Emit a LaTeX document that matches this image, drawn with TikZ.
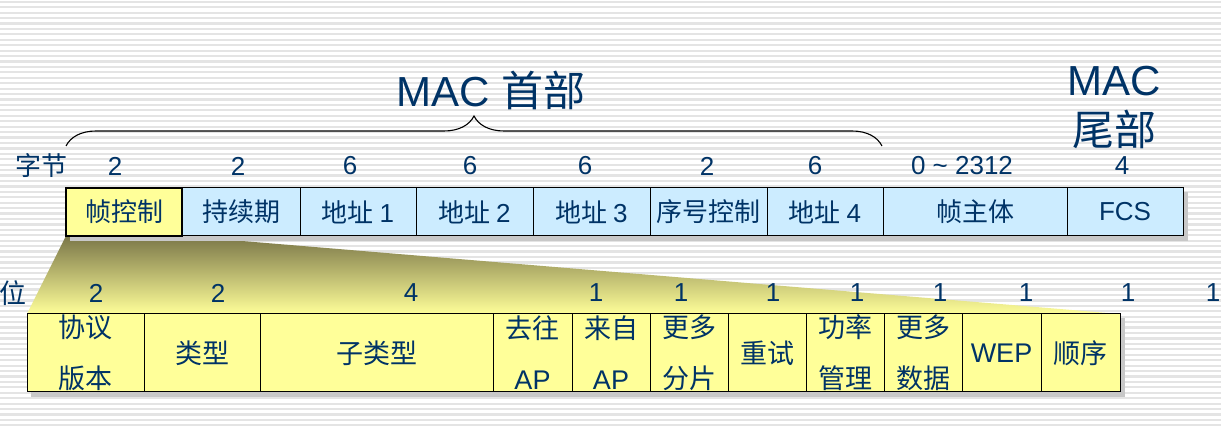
\documentclass[tikz,border=0pt]{standalone}
\usepackage{fontspec}
\setmainfont{Liberation Sans}
\newfontfamily\cjk{Noto Sans CJK SC}
\usetikzlibrary{decorations.pathreplacing}
\definecolor{txtblue}{RGB}{0,51,102}
\definecolor{hdrblue}{RGB}{204,236,255}
\definecolor{fldyellow}{RGB}{255,255,153}
\definecolor{olivetop}{RGB}{122,118,72}
\definecolor{stripegray}{RGB}{228,228,228}
\definecolor{shadowgray}{RGB}{200,200,200}
\tikzset{
  hdrcell/.style={draw=black, line width=1pt, fill=hdrblue, minimum height=48pt,
    inner sep=0pt, text=txtblue, font=\cjk\fontsize{26}{26}\selectfont},
  fldcell/.style={draw=black, line width=1pt, fill=fldyellow, minimum height=78pt,
    inner sep=0pt, align=center, text=txtblue, font=\cjk\fontsize{27}{51}\selectfont},
  numlbl/.style={inner sep=0pt, text=txtblue, font=\fontsize{26}{26}\selectfont},
  titlelbl/.style={inner sep=0pt, text=txtblue, font=\fontsize{42}{50}\selectfont}
}

\begin{document}
\begin{tikzpicture}[x=1pt,y=-1pt]
  \useasboundingbox (0,0) rectangle (1221,427);
  % striped background
  \foreach \i in {0,...,78}
    \fill[stripegray] (0,5.43*\i+0.7) rectangle (1221,5.43*\i+2.9);
  % zoom wedge under the frame control field
  \coordinate (FL) at (66,236); \coordinate (FR) at (182,236);
  \coordinate (BR) at (1120,314); \coordinate (BL) at (27,314);
  \shade[top color=olivetop, bottom color=fldyellow] (FL)--(FR)--(BR)--(BL)--cycle;
  % shadows
  \fill[shadowgray] (70,192) rectangle (1188,241);
  \fill[shadowgray] (31,318) rectangle (1125,397);

  % MAC frame
  \node[hdrcell, minimum width=116pt, line width=2pt, fill=fldyellow] (fc) at (124,212) {帧控制};
  \node[hdrcell, minimum width=118pt] (dur) at (241,212) {持续期};
  \node[hdrcell, minimum width=116pt] (a1) at (358,212) {地址 \rmfamily 1};
  \node[hdrcell, minimum width=117pt] (a2) at (474.5,212) {地址 \rmfamily 2};
  \node[hdrcell, minimum width=117pt] (a3) at (591.5,212) {地址 \rmfamily 3};
  \node[hdrcell, minimum width=117pt] (seq) at (708.5,212) {序号控制};
  \node[hdrcell, minimum width=116pt] (a4) at (825,212) {地址 \rmfamily 4};
  \node[hdrcell, minimum width=184pt] (body) at (975,212) {帧主体};
  \node[hdrcell, minimum width=116pt] (fcs) at (1125,212) {\rmfamily FCS};

  % frame control bits
  \node[fldcell, minimum width=117pt] (pv) at (85.5,353) {协议\\版本};
  \node[fldcell, minimum width=116pt] (typ) at (202,353) {类型};
  \node[fldcell, minimum width=233pt] (sub) at (376.5,353) {子类型};
  \node[fldcell, minimum width=79pt] (tods) at (532.5,353) {去往\\\rmfamily AP};
  \node[fldcell, minimum width=78pt] (frds) at (611,353) {来自\\\rmfamily AP};
  \node[fldcell, minimum width=78pt] (mfrag) at (689,353) {更多\\分片};
  \node[fldcell, minimum width=78pt] (retry) at (767,353) {重试};
  \node[fldcell, minimum width=78pt] (pwr) at (845,353) {功率\\管理};
  \node[fldcell, minimum width=78pt] (mdata) at (923,353) {更多\\数据};
  \node[fldcell, minimum width=79pt] (wep) at (1001.5,353) {\rmfamily WEP};
  \node[fldcell, minimum width=79pt] (ord) at (1080.5,353) {顺序};

  % headings
  \node[titlelbl] (hdr) at (491,90) {MAC {\cjk 首部}};
  \node[titlelbl, align=center] (trl) at (1114,107) {MAC\\{\cjk 尾部}};
  \draw[line width=1.1pt, decorate, decoration={brace, amplitude=30pt}]
    (66,146) -- (882,146);

  % byte counts
  \node[numlbl, font=\cjk\fontsize{26}{26}\selectfont] (bytes) at (42,166) {字节};
  \node[numlbl] (nfc) at (115,166) {2};
  \node[numlbl] (ndur) at (238,166) {2};
  \node[numlbl] (na1) at (350,166) {6};
  \node[numlbl] (na2) at (470,166) {6};
  \node[numlbl] (na3) at (585,166) {6};
  \node[numlbl] (nseq) at (707,166) {2};
  \node[numlbl] (na4) at (815,166) {6};
  \node[numlbl] (nbody) at (962,166) {0 \textasciitilde{} 2312};
  \node[numlbl] (nfcs) at (1122,166) {4};

  % bit counts
  \node[numlbl, font=\cjk\fontsize{27}{27}\selectfont] (bits) at (13,293) {位};
  \node[numlbl] (npv) at (96,293) {2};
  \node[numlbl] (ntyp) at (218,293) {2};
  \node[numlbl] (nsub) at (411,293) {4};
  \node[numlbl] (ntods) at (596,293) {1};
  \node[numlbl] (nfrds) at (681,293) {1};
  \node[numlbl] (nmfrag) at (773,293) {1};
  \node[numlbl] (nretry) at (857,293) {1};
  \node[numlbl] (npwr) at (940,293) {1};
  \node[numlbl] (nmdata) at (1026,293) {1};
  \node[numlbl] (nwep) at (1128,293) {1};
  \node[numlbl] (nord) at (1213,293) {1};
\end{tikzpicture}
\end{document}
